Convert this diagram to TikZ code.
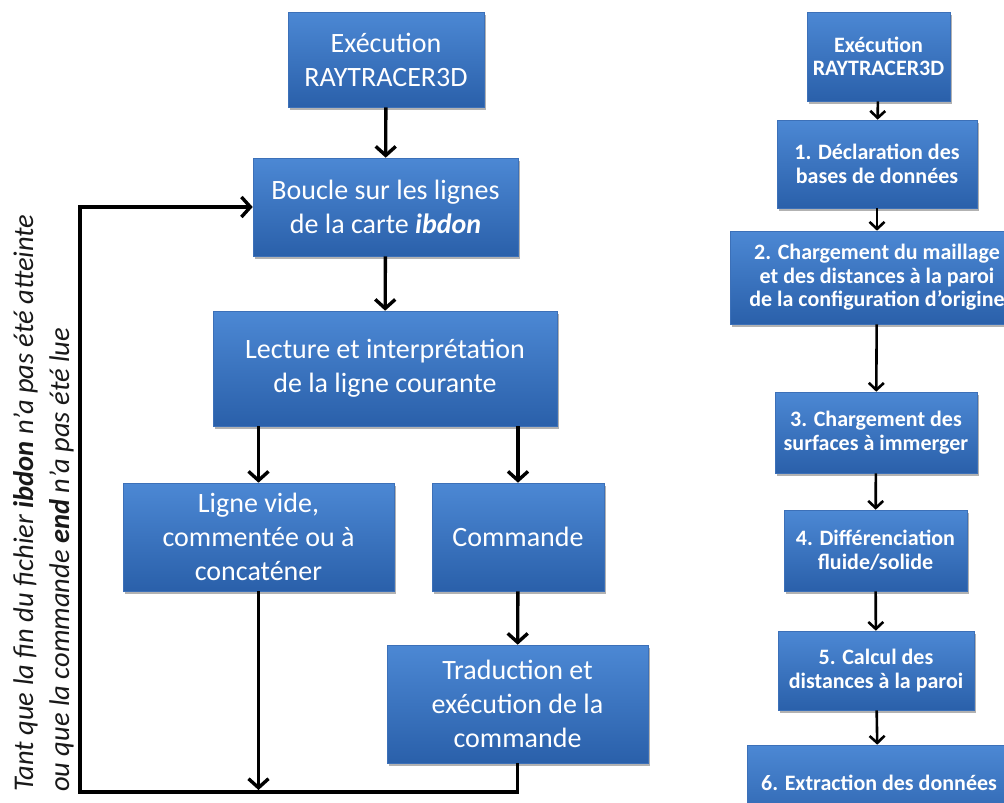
\documentclass[tikz,border=0pt]{standalone}
\usepackage{fontspec}
\setmainfont{Carlito}
\usetikzlibrary{arrows.meta,shadows,calc}
\definecolor{boxtop}{RGB}{76,136,212}
\definecolor{boxbot}{RGB}{42,96,170}
\definecolor{boxedge}{RGB}{60,112,184}
\begin{document}
\begin{tikzpicture}[x=1pt,y=-1pt,
  box/.style={rectangle, inner sep=0pt, align=center, text=white,
    top color=boxtop, bottom color=boxbot, draw=boxedge, line width=0.6pt,
    drop shadow={shadow xshift=2pt, shadow yshift=-3pt, opacity=0.3, fill=black}},
  lbox/.style={box, font=\fontsize{28}{34}\selectfont},
  rbox/.style={box, font=\fontsize{22}{23.5}\selectfont\bfseries},
  arr/.style={line width=3.4pt, -{Straight Barb[length=9pt,width=20pt]}},
  rarr/.style={line width=2.6pt, -{Straight Barb[length=7pt,width=15pt]}},
  loopline/.style={line width=3.4pt, line join=miter}]
\useasboundingbox (0,0) rectangle (1004,803);
\clip (0,0) rectangle (1004,803);
\fill[white] (0,0) rectangle (1004,803);

% left diagram
\node[lbox, minimum width=196pt, minimum height=95pt] (A) at (386,59.5) {Exécution\\RAYTRACER3D};
\node[lbox, minimum width=265pt, minimum height=98pt] (B) at (385.5,207) {Boucle sur les lignes\\de la carte \textbf{\textit{ibdon}}};
\node[lbox, minimum width=344pt, minimum height=115pt] (C) at (385,368.5) {Lecture et interprétation\\de la ligne courante};
\node[lbox, minimum width=271pt, minimum height=108pt] (D) at (258.5,537) {Ligne vide,\\commentée ou à\\concaténer};
\node[lbox, minimum width=172pt, minimum height=108pt] (E) at (518,537) {Commande};
\node[lbox, minimum width=261pt, minimum height=118pt] (F) at (517.5,704) {Traduction et\\exécution de la\\commande};

\coordinate (BL) at (80,792);

\draw[arr] (A) -- (B);
\draw[arr] (B) -- (C);
\draw[arr] (D.north |- C.south) -- (D.north);
\draw[arr] (E.north |- C.south) -- (E.north);
\draw[arr] (E) -- (F);
\draw[loopline, -{Straight Barb[length=9pt,width=20pt]}] (F.south) |- (BL) |- (B.west);
\draw[arr, shorten >=2pt] (D.south) -- (D.south |- BL);

\node[rotate=90, anchor=south west, inner sep=0pt, align=left,
  font=\fontsize{28.5}{36}\selectfont\itshape, text=black!90] (T) at (74,792)
  {Tant que la fin du fichier \textbf{ibdon} n’a pas été atteinte\\ou que la commande \textbf{end} n’a pas été lue};

% right column
\node[rbox, minimum width=143pt, minimum height=89pt] (R0) at (878.5,56.5) {Exécution\\RAYTRACER3D};
\node[rbox, minimum width=200pt, minimum height=88pt] (R1) at (877,164) {1. Déclaration des\\bases de données};
\node[rbox, minimum width=294pt, minimum height=93pt] (R2) at (877,277.5) {2. Chargement du maillage\\et des distances à la paroi\\de la configuration d’origine};
\node[rbox, minimum width=202pt, minimum height=81pt] (R3) at (876,432.5) {3. Chargement des\\surfaces à immerger};
\node[rbox, minimum width=183pt, minimum height=81pt] (R4) at (875.5,550.5) {4. Différenciation\\fluide/solide};
\node[rbox, minimum width=196pt, minimum height=79pt] (R5) at (876,670.5) {5. Calcul des\\distances à la paroi};
\node[rbox, minimum width=262pt, minimum height=90pt] (R6) at (878,790) {};
\node[font=\fontsize{22}{23.5}\selectfont\bfseries, text=white, inner sep=0pt] (R6t) at (879,783) {6. Extraction des données};

\draw[rarr] (R0) -- (R1);
\draw[rarr] (R1) -- (R2);
\draw[rarr] (R2) -- (R3);
\draw[rarr] (R3) -- (R4);
\draw[rarr] (R4) -- (R5);
\draw[rarr] (R5) -- (R6);
\end{tikzpicture}
\end{document}
